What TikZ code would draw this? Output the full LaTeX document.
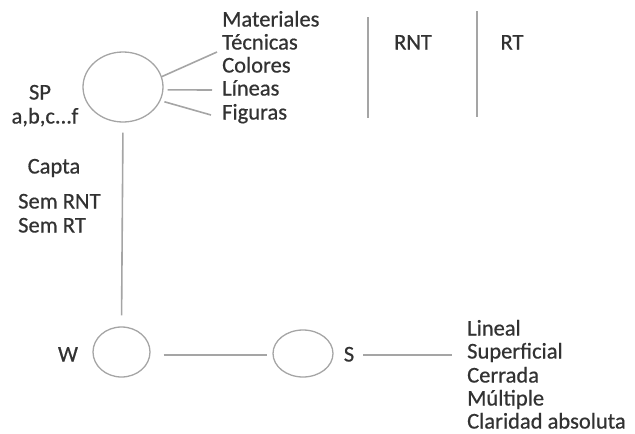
\documentclass[tikz,border=0pt]{standalone}
\usepackage{fontspec}
\setmainfont{Carlito}
\newfontfamily\diagfont{Carlito}[FakeBold=0.6]
\usetikzlibrary{shapes.geometric}
\definecolor{txtgray}{RGB}{50,50,50}
\definecolor{linegray}{RGB}{165,165,165}
\begin{document}
\begin{tikzpicture}[x=1pt, y=-1pt]
    \tikzstyle{every node}=[inner sep=0pt, text=txtgray, text height=15pt, text depth=4pt, font=\diagfont\fontsize{22.5}{26}\selectfont]
    \tikzstyle{ring}=[ellipse, draw=linegray, line width=1.3pt, text height=, text depth=]
    \tikzstyle{item}=[anchor=west]
    \tikzstyle{link}=[draw=linegray, line width=1.6pt]
    \useasboundingbox (0,0) rectangle (635,434);
    % top circle with its labels
    \node[ring, minimum width=80pt, minimum height=70pt] (sp) at (123,87) {};
    \node (splbl) at (40,94) {SP};
    \node (abc) at (45,118) {a,b,c...f};
    \node[item] (mat) at (222,21) {Materiales};
    \node[item] (tec) at (222,44) {Técnicas};
    \node[item] (col) at (222,67) {Colores};
    \node[item] (lin) at (222,90) {Líneas};
    \node[item] (fig) at (222,114) {Figuras};
    \node (rnt) at (413,44) {RNT};
    \node (rt) at (512,44) {RT};
    \coordinate (f1) at (217,52);
    \coordinate (f2) at (212,90);
    \coordinate (f3) at (211,115);
    \draw[link] (sp.15) -- (f1);
    \draw[link, shorten <=4pt] (sp.-4) -- (f2);
    \draw[link, shorten <=4pt] (sp.-20) -- (f3);
    \coordinate (d1a) at (368,17);
    \coordinate (d1b) at (368,118);
    \coordinate (d2a) at (477,11);
    \coordinate (d2b) at (477,117);
    \draw[link, line width=2.4pt] (d1a) -- (d1b);
    \draw[link] (d2a) -- (d2b);
    % left column
    \node (capta) at (54,168) {Capta};
    \node[item] (semrnt) at (18,203) {Sem RNT};
    \node[item] (semrt) at (18,227) {Sem RT};
    % bottom row
    \node[ring, minimum width=57pt, minimum height=50pt] (w) at (121.5,352) {};
    \node[ring, minimum width=60pt, minimum height=47pt] (s) at (303,353.5) {};
    \node (wlbl) at (68,356) {W};
    \node (slbl) at (349,356) {S};
    \node[item] (lnl) at (467,330) {Lineal};
    \node[item] (sup) at (467,353) {Superficial};
    \node[item] (cer) at (467,377) {Cerrada};
    \node[item] (mul) at (467,400) {Múltiple};
    \node[item] (cla) at (467,423) {Claridad absoluta};
    \draw[link, shorten <=10pt, shorten >=11pt] (sp.south) -- (w.north);
    \draw[link, shorten <=13pt, shorten >=5pt] (w.east |- 0,355) -- (s.west |- 0,355);
    \draw[link, shorten <=9pt, shorten >=15pt] (slbl.east |- 0,355) -- (sup.west |- 0,355);
\end{tikzpicture}
\end{document}
